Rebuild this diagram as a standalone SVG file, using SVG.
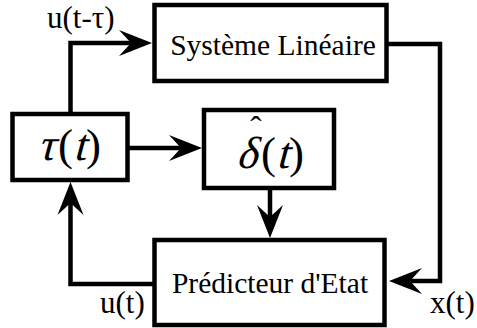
<svg xmlns="http://www.w3.org/2000/svg" width="477" height="328" viewBox="0 0 477 328">
  <style>
    .box { fill: #fff; stroke: #000; stroke-width: 4.5; }
    .conn { fill: none; stroke: #000; stroke-width: 4.5; stroke-linejoin: miter; }
    .lbl { font-family: "Liberation Serif", serif; font-size: 29.5px; fill: #000; }
    .sig { font-family: "Liberation Serif", serif; font-size: 31px; fill: #000; }
    .math { font-family: "Liberation Serif", serif; font-size: 45px; fill: #000; }
  </style>
  <defs>
    <marker id="arr" markerUnits="userSpaceOnUse" viewBox="-34 -14 36 28" refX="-8" refY="0" markerWidth="36" markerHeight="28" orient="auto">
      <path d="M0,0 L-33,-13 L-21,0 L-33,13 Z" fill="#000"/>
    </marker>
  </defs>
  <rect width="477" height="328" fill="#fff"/>

  <g id="connectors">
    <path class="conn" d="M70.5 114 V43 H144" marker-end="url(#arr)"/>
    <path class="conn" d="M127.5 148 H194" marker-end="url(#arr)"/>
    <path class="conn" d="M270 188 V230" marker-end="url(#arr)"/>
    <path class="conn" d="M386.5 44 H440 V281 H397" marker-end="url(#arr)"/>
    <path class="conn" d="M154.5 284 H70.5 V190" marker-end="url(#arr)"/>
  </g>

  <g id="systeme">
    <rect class="box" x="154.5" y="5" width="232" height="76"/>
    <text class="lbl" x="273" y="55" text-anchor="middle">Système Linéaire</text>
  </g>
  <g id="tau">
    <rect class="box" x="12.5" y="114" width="115" height="66"/>
    <text class="math" transform="translate(37 160) skewX(-15)">τ</text>
    <text class="math" x="58" y="160">(</text>
    <text class="math" transform="translate(73 160) skewX(-15)">t</text>
    <text class="math" x="86" y="160">)</text>
  </g>
  <g id="delta">
    <rect class="box" x="204" y="110" width="130" height="78"/>
    <text class="math" transform="translate(236 168) skewX(-15)">δ</text>
    <text class="math" x="261" y="168">(</text>
    <text class="math" transform="translate(276 168) skewX(-15)">t</text>
    <text class="math" x="289" y="168">)</text>
    <text class="math" x="256" y="140" text-anchor="middle" style="font-size:34px">ˆ</text>
  </g>
  <g id="predicteur">
    <rect class="box" x="154.5" y="240" width="230" height="85"/>
    <text class="lbl" x="270" y="293" text-anchor="middle">Prédicteur d'Etat</text>
  </g>

  <g id="labels">
    <text class="sig" x="47" y="28">u(t-τ)</text>
    <text class="sig" x="100" y="313">u(t)</text>
    <text class="sig" x="430" y="313">x(t)</text>
  </g>
</svg>
